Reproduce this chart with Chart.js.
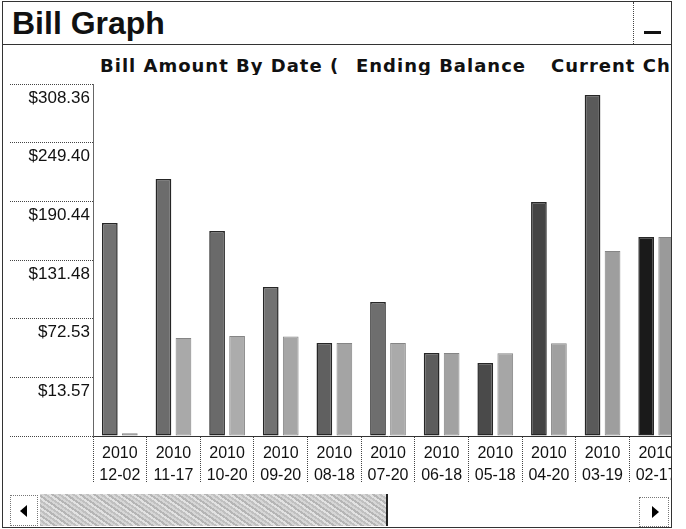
<!DOCTYPE html>
<html>
<head>
<meta charset="utf-8">
<title>Bill Graph</title>
<script src="https://cdn.jsdelivr.net/npm/chart.js@4.4.0/dist/chart.umd.min.js"></script>
<style>
  body { margin: 0; background: #fff; }
  #frame { position: absolute; left: 2px; top: 1px; width: 668px; height: 525px; border: 1px solid #333; overflow: hidden; }
  #titlebar { position: absolute; left: 0; top: 0; width: 668px; height: 42px; border-bottom: 1px solid #333; }
  #title { position: absolute; left: 9px; top: 5px; font: bold 32px/1 "Liberation Sans", Arial, sans-serif; color: #111; }
  #minbox { position: absolute; left: 630px; top: 0; width: 38px; height: 42px; border-left: 1px dotted #444; }
  #minus { position: absolute; left: 10px; top: 29px; width: 17px; height: 3px; background: #111; }
  .leg { position: absolute; top: 55px; font: bold 18px/1 "DejaVu Sans", Verdana, sans-serif; letter-spacing: 1px; color: #111; white-space: nowrap; overflow: hidden; }
  #clip { position: absolute; left: 0; top: 76px; width: 668px; height: 406px; overflow: hidden; }
  #wrap { position: absolute; left: 0; top: 0; width: 680px; height: 404px; }
  .btn { position: absolute; border: 1px dotted #777; background: #fff; }
  .tri { position: absolute; width: 0; height: 0; border-top: 6px solid transparent; border-bottom: 6px solid transparent; }
  #thumb { position: absolute; left: 37px; top: 492px; width: 346px; height: 32px; border-right: 2px solid #222;
           background: repeating-linear-gradient(35deg, #b5b5b5 0 2px, #d6d6d6 2px 4px, #c0c0c0 4px 6px, #e2e2e2 6px 8px); }
</style>
</head>
<body>
<div id="frame">
  <div id="titlebar">
    <div id="title">Bill Graph</div>
    <div id="minbox"><div id="minus"></div></div>
  </div>
  <div class="leg" style="left:97px; width:245px;">Bill Amount By Date (</div>
  <div class="leg" style="left:353px;">Ending Balance</div>
  <div class="leg" style="left:548px;">Current Charges</div>
  <div id="clip"><div id="wrap"><canvas id="chart"></canvas></div></div>
  <div class="btn" style="left:7px; top:493px; width:26px; height:29px;">
    <div class="tri" style="left:9px; top:9px; border-right: 7px solid #000;"></div>
  </div>
  <div id="thumb"></div>
  <div class="btn" style="left:636px; top:495px; width:28px; height:28px;">
    <div class="tri" style="left:12px; top:8px; border-left: 7px solid #000;"></div>
  </div>
</div>
<script>
// data
const billDates = ['2010-12-02', '2010-11-17', '2010-10-20', '2010-09-20', '2010-08-18', '2010-07-20',
                   '2010-06-18', '2010-05-18', '2010-04-20', '2010-03-19', '2010-02-17'];
const endingBalance = [168.7, 212.9, 160.6, 104.3, 48.1, 89.3, 38.0, 28.0, 189.8, 297.3, 154.6];
const currentCharges = [-42.6, 53.1, 55.1, 54.6, 48.1, 48.1, 38.0, 37.7, 47.8, 140.5, 154.6];
const yTickValues = [-45.39, 13.57, 72.53, 131.48, 190.44, 249.40, 308.36];
const yTickLabels = ['', '$13.57', '$72.53', '$131.48', '$190.44', '$249.40', '$308.36'];

// bar shades (scanned grey)
const darkFill = ['#727272', '#6c6c6c', '#6a6a6a', '#727272', '#606060', '#6e6e6e', '#5c5c5c', '#4a4a4a', '#444444', '#5a5a5a', '#1a1a1a'];
const lightFill = ['#9a9a9a', '#a9a9a9', '#acacac', '#a6a6a6', '#a4a4a4', '#aaaaaa', '#a2a2a2', '#a6a6a6', '#a0a0a0', '#9e9e9e', '#9a9a9a'];

const yMin = yTickValues[0];
const yMax = yTickValues[yTickValues.length - 1];

const chartCanvas = document.querySelector('#chart');

const chart = new Chart(chartCanvas, {
    type: 'bar',
    data: {
        labels: billDates.map(d => [d.slice(0, 4), d.slice(5)]),
        datasets: [{
            label: 'Ending Balance',
            data: endingBalance,
            base: yMin,
            backgroundColor: darkFill,
            borderColor: '#262626',
            borderWidth: 1.5,
            borderSkipped: false
        }, {
            label: 'Current Charges',
            data: currentCharges,
            base: yMin,
            backgroundColor: lightFill,
            borderColor: '#858585',
            borderWidth: 1,
            borderSkipped: false
        }]
    },
    options: {
        responsive: true,
        maintainAspectRatio: false,
        animation: false,
        layout: { padding: { top: 6, right: 0, bottom: 0, left: 0 } },
        datasets: { bar: { barPercentage: 0.785, categoryPercentage: 0.746 } },
        plugins: { legend: { display: false }, tooltip: { enabled: false } },
        scales: {
            x: {
                afterFit: s => { s.height = 46; },
                grid: { drawOnChartArea: false, tickLength: 46, offset: true, tickColor: '#444', tickBorderDash: [1, 1] },
                border: { color: '#333', dash: [1, 1] },
                ticks: {
                    padding: -40,
                    color: '#111',
                    maxRotation: 0,
                    autoSkip: false,
                    font: { family: 'Liberation Sans', size: 16, lineHeight: 1.4 }
                }
            },
            y: {
                min: yMin,
                max: yMax,
                afterBuildTicks: s => { s.ticks = yTickValues.map(v => ({ value: v })); },
                afterFit: s => { s.width = 90; },
                grid: { drawOnChartArea: false, tickLength: 83, tickColor: '#444', tickBorderDash: [1, 1] },
                border: { color: '#666', dash: [1, 1] },
                ticks: {
                    padding: -80,
                    labelOffset: 14,
                    color: '#111',
                    font: { family: 'Liberation Sans', size: 17 },
                    callback: (v, i) => yTickLabels[i]
                }
            }
        }
    }
});
</script>
</body>
</html>
